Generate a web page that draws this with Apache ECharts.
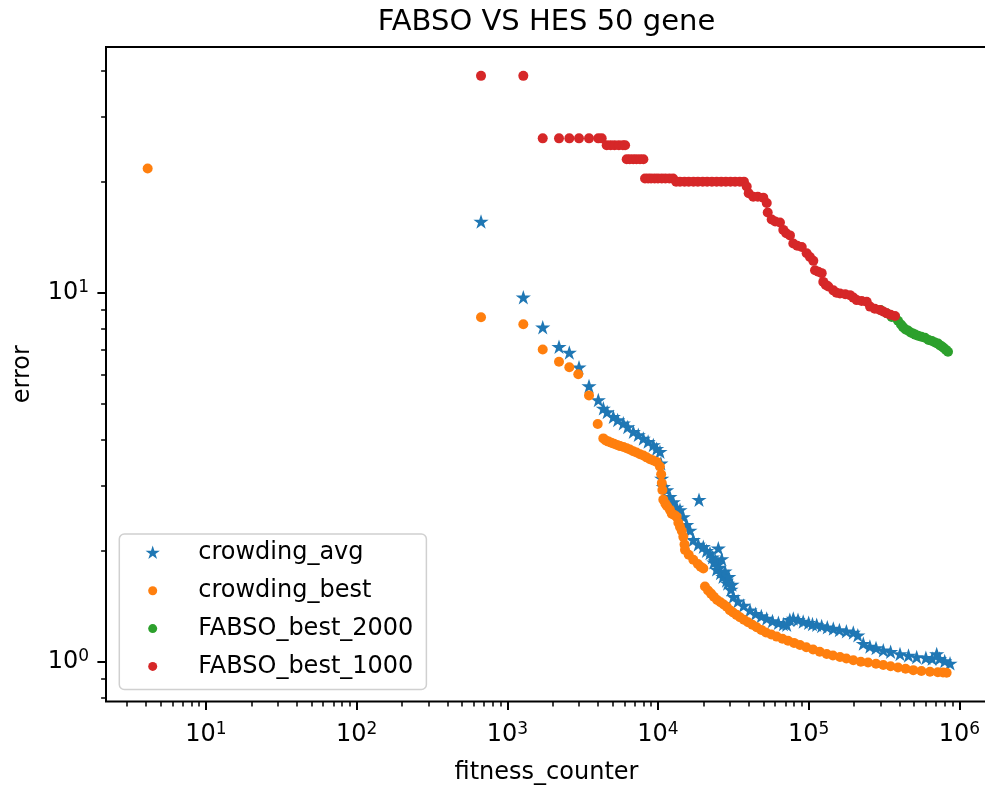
<!DOCTYPE html>
<html><head><meta charset="utf-8">
<script src="https://cdn.jsdelivr.net/npm/echarts@6/dist/echarts.min.js"></script>
<style>html,body{margin:0;padding:0;background:#fff}#c{width:985px;height:791px}</style>
</head><body><div id="c"></div>
<script>
const chartTitle = 'FABSO VS HES 50 gene';
const xName = 'fitness_counter';
const yName = 'error';
const seriesNames = ['crowding_avg', 'crowding_best', 'FABSO_best_2000', 'FABSO_best_1000'];
const seriesColors = ['#1f77b4', '#ff7f0e', '#2ca02c', '#d62728'];
const xMajorTicks = [10, 100, 1000, 10000, 100000, 1000000];
const xMinorTicks = [3,4,5,6,7,8,9,20,30,40,50,60,70,80,90,200,300,400,500,600,700,800,900,
  2000,3000,4000,5000,6000,7000,8000,9000,20000,30000,40000,50000,60000,70000,80000,90000,
  200000,300000,400000,500000,600000,700000,800000,900000];
const yMajorTicks = [1, 10];
const yMinorTicks = [0.8, 0.9, 2, 3, 4, 5, 6, 7, 8, 9, 20, 30, 40];

const crowdingAvg = [
  [669,15.6],[1277,9.72],[1718,8.06],[2203,7.14],[2579,6.89],[2991,6.28],[3485,5.59],[4017,5.12],
  [4337,4.86],[4600,4.75],[5051,4.61],[5400,4.52],[5887,4.43],[6300,4.33],[6858,4.2],[7400,4.12],
  [7989,4.03],[8600,3.95],[9310,3.87],[9800,3.78],[10313,3.71],[10450,3.45],[10585,3.14],[10846,2.98],
  [11420,2.92],[12000,2.8],[12640,2.71],[13320,2.62],[14000,2.58],[14730,2.47],[15510,2.35],[16300,2.27],
  [17160,2.14],[18500,2.08],[18720,2.75],[19990,2.05],[21000,2.0],[22140,1.97],[23000,1.92],[23500,1.86],
  [24000,1.88],[24500,1.78],[25150,2.03],[25000,1.84],[25500,1.8],[26000,1.74],[26500,1.9],[27000,1.7],
  [27850,1.76],[28500,1.66],[29000,1.63],[29500,1.7],[30500,1.57],[31000,1.62],[31640,1.5],[34000,1.46],
  [37000,1.42],[40810,1.38],[44500,1.35],[48500,1.33],[52680,1.31],[57500,1.29],[63000,1.275],[68000,1.265],
  [71530,1.26],[75000,1.3],[79100,1.31],[85000,1.3],[92000,1.285],[100000,1.275],[106000,1.265],[113100,1.26],
  [122000,1.25],[133000,1.24],[145800,1.23],[160000,1.22],[178000,1.21],[197900,1.2],[212000,1.18],[230600,1.12],
  [255000,1.1],[280000,1.09],[313000,1.075],[350000,1.065],[404000,1.05],[460000,1.04],[521400,1.03],[600000,1.025],
  [660000,1.02],[707900,1.05],[740000,1.02],[800000,1.005],[867800,0.99]
];

const crowdingBest = [
  [4.1,21.7],[669,8.58],[1277,8.21],[1718,7.02],[2203,6.5],[2579,6.28],[2958,6.01],[3485,5.27],[3981,4.41],
  [4337,4.03],[4500,3.98],[4700,3.95],[4900,3.92],[5100,3.9],[5350,3.87],[5600,3.84],[5900,3.82],[6200,3.79],
  [6500,3.76],[6850,3.72],[7200,3.69],[7600,3.65],[8000,3.62],[8400,3.58],[8850,3.54],[9300,3.51],[9800,3.48],
  [10300,3.38],[10500,3.22],[10600,3.05],[10700,2.92],[10850,2.75],[11200,2.68],[11500,2.64],[12000,2.58],
  [12350,2.52],[12800,2.5],[13300,2.47],[13650,2.38],[14000,2.32],[14400,2.26],[14730,2.18],[15000,2.08],
  [15110,2.01],[16000,1.95],[17160,1.89],[18400,1.84],[19200,1.81],[20000,1.79],
  [20500,1.6],[21500,1.56],[22500,1.53],[23500,1.5],[24700,1.47],[26000,1.45],[27300,1.43],[28600,1.41],
  [30000,1.38],[31500,1.36],[33200,1.34],[35000,1.32],[37200,1.3],[39600,1.28],[42300,1.26],[45200,1.24],
  [48500,1.22],[52100,1.2],[56500,1.185],[61400,1.17],[67000,1.155],[73000,1.14],[80000,1.125],[87600,1.11],
  [96500,1.095],[107000,1.08],[118500,1.065],[131800,1.05],[145000,1.04],[161500,1.03],[178000,1.02],[198000,1.01],
  [222000,1.0],[248000,0.995],[280000,0.988],[313000,0.98],[350000,0.972],[392000,0.965],[440000,0.957],
  [495000,0.949],[560000,0.944],[639000,0.94],[720000,0.937],[780000,0.935],[824000,0.934]
];

const fabsoBest2000 = [
  [300000,8.98],[329700,8.8],[355900,8.6],[374400,8.6],[391900,8.4],[410000,8.2],[423000,8.07],[440000,7.95],
  [456500,7.9],[475000,7.8],[492800,7.75],[510000,7.7],[531900,7.65],[560000,7.6],[592000,7.55],[625000,7.45],
  [658800,7.4],[690000,7.33],[722200,7.28],[745000,7.2],[767800,7.15],[790000,7.08],[815800,7.0],[841400,6.92]
];

const fabsoBest1000 = [
  [669,38.7],[1277,38.7],
  [1718,26.2],[2203,26.2],[2579,26.2],[2991,26.2],[3485,26.2],[4017,26.2],[4230,26.2],
  [4567,25.1],[4850,25.1],[5150,25.1],[5500,25.1],[5850,25.1],[6050,25.1],
  [6199,23.0],[6500,23.0],[6850,23.0],[7200,23.0],[7600,23.0],[8000,23.0],
  [8202,20.4],[8600,20.4],[9000,20.4],[9500,20.4],[10000,20.4],[10600,20.4],[11200,20.4],[11900,20.4],[12600,20.4],
  [13200,20.0],[14000,20.0],[15000,20.0],[16000,20.0],[17200,20.0],[18400,20.0],[19800,20.0],[21200,20.0],
  [22800,20.0],[24500,20.0],[26300,20.0],[28200,20.0],[30300,20.0],[32500,20.0],[34900,20.0],[37200,20.0],
  [38800,19.4],[40000,18.6],[42900,18.2],[46000,18.2],[50000,18.1],[52700,17.5],[53500,16.5],[56850,15.8],
  [60000,15.6],[64500,15.5],[67900,14.8],[71000,14.5],[75200,14.3],[79100,13.6],[84000,13.4],[90000,13.3],
  [97000,12.8],[102000,12.5],[107400,12.2],[110200,11.5],[116000,11.4],[122100,11.3],[125100,10.7],[130000,10.5],
  [135100,10.4],[145800,10.15],[153000,10.0],[161500,9.95],[175000,9.9],[188200,9.85],[198000,9.7],[208500,9.55],
  [225000,9.5],[242900,9.45],[255500,9.17],[275000,9.05],[297600,8.98],[312000,8.9],[329700,8.8],[350000,8.72],[374400,8.65]
];

const seriesData = [crowdingAvg, crowdingBest, fabsoBest2000, fabsoBest1000];

const FONT = 'DejaVu Sans';
const starPath = 'path://M0,-100L22.45,-30.9L95.11,-30.9L36.33,11.8L58.78,80.9L0,38.2L-58.78,80.9L-36.33,11.8L-95.11,-30.9L-22.45,-30.9Z';
const legendStar = 'path://M-7.5,-7.5M40.5,7.5M0,-7.5L1.684,-2.318L7.133,-2.318L2.725,0.885L4.408,6.068L0,2.865L-4.408,6.068L-2.725,0.885L-7.133,-2.318L-1.684,-2.318Z';
const legendDot = 'path://M-7.5,-7.5M40.5,7.5M-4.5,0A4.5,4.5,0,1,1,4.5,0A4.5,4.5,0,1,1,-4.5,0Z';

const X_MIN = 2.169, X_MAX = 1.527e6, Y_MIN = 0.7804, Y_MAX = 46.33;

function powLabel(v) {
  return '{b|10}{s|' + Math.round(Math.log10(v)) + '}';
}
const labelRich = {
  b: {fontFamily: FONT, fontSize: 24, lineHeight: 27, color: '#000'},
  s: {fontFamily: FONT, fontSize: 17, lineHeight: 17, color: '#000', verticalAlign: 'top'}
};

const chart = echarts.init(document.getElementById('c'), null, {renderer: 'canvas'});
chart.setOption({
  animation: false,
  backgroundColor: '#fff',
  title: {
    text: chartTitle, left: 546.5, top: 7.5, padding: 0, textAlign: 'center',
    textStyle: {fontFamily: FONT, fontSize: 29, fontWeight: 'normal', color: '#000'}
  },
  grid: {left: 106, top: 47, width: 881, height: 654.5, outerBoundsMode: 'none', containLabel: false,
    show: true, borderColor: '#000', borderWidth: 2, backgroundColor: 'transparent'},
  legend: {
    orient: 'vertical', left: 119.3, top: 534,
    padding: [7, 13, 11, 25.9], itemGap: 13.8, itemWidth: 48, itemHeight: 15,
    backgroundColor: 'rgba(255,255,255,0.8)', borderColor: '#d0d0d0', borderWidth: 1.5, borderRadius: 5,
    textStyle: {fontFamily: FONT, fontSize: 24, color: '#000'},
    data: seriesNames.map((n, i) => ({name: n, icon: i === 0 ? legendStar : legendDot}))
  },
  xAxis: [{
    type: 'log', min: X_MIN, max: X_MAX, gridIndex: 0,
    name: xName, nameLocation: 'middle', nameGap: 59,
    nameTextStyle: {fontFamily: FONT, fontSize: 24, color: '#000'},
    axisLine: {show: false},
    splitLine: {show: false},
    axisTick: {show: true, customValues: xMajorTicks, length: 8.6, lineStyle: {color: '#000', width: 2}},
    axisLabel: {customValues: xMajorTicks, formatter: powLabel, rich: labelRich, margin: 20}
  }, {
    type: 'log', min: X_MIN, max: X_MAX, gridIndex: 0, position: 'bottom',
    axisLine: {show: false}, splitLine: {show: false}, axisLabel: {show: false},
    axisTick: {show: true, customValues: xMinorTicks, length: 4.9, lineStyle: {color: '#000', width: 1.5}}
  }],
  yAxis: [{
    type: 'log', min: Y_MIN, max: Y_MAX, gridIndex: 0,
    name: yName, nameLocation: 'middle', nameGap: 71,
    nameTextStyle: {fontFamily: FONT, fontSize: 24, color: '#000'},
    axisLine: {show: false},
    splitLine: {show: false},
    axisTick: {show: true, customValues: yMajorTicks, length: 8.6, lineStyle: {color: '#000', width: 2}},
    axisLabel: {customValues: yMajorTicks, formatter: powLabel, rich: labelRich, margin: 17}
  }, {
    type: 'log', min: Y_MIN, max: Y_MAX, gridIndex: 0, position: 'left',
    axisLine: {show: false}, splitLine: {show: false}, axisLabel: {show: false},
    axisTick: {show: true, customValues: yMinorTicks, length: 4.9, lineStyle: {color: '#000', width: 1.5}}
  }],
  series: seriesNames.map((n, i) => ({
    name: n, type: 'scatter', xAxisIndex: 0, yAxisIndex: 0,
    symbol: i === 0 ? starPath : 'circle',
    symbolSize: i === 0 ? [15.2, 14.5] : 10,
    itemStyle: {color: seriesColors[i], opacity: 1},
    emphasis: {disabled: true},
    data: seriesData[i]
  }))
});
</script></body></html>
